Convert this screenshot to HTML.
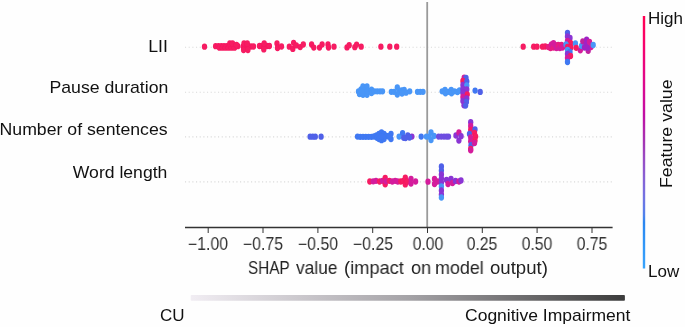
<!DOCTYPE html>
<html><head><meta charset="utf-8">
<style>
html,body{margin:0;padding:0;}
body{width:685px;height:327px;overflow:hidden;background:#fefefe;position:relative;font-family:"Liberation Sans",sans-serif;color:#111;-webkit-font-smoothing:antialiased;}
.t,.fl,.tk{will-change:transform;}
svg{position:absolute;left:0;top:0;}
.t{position:absolute;white-space:nowrap;font-size:17px;line-height:1;}
.fl{position:absolute;white-space:nowrap;font-size:17px;line-height:1;text-align:right;right:517px;transform:scaleX(1.04);transform-origin:100% 0;}
.xw{top:259px;color:#222;font-size:18.5px;transform-origin:0 0;}
.tk{position:absolute;top:235.5px;width:80px;text-align:center;font-size:17.5px;line-height:1;color:#333;transform:scaleX(0.9);transform-origin:50% 0;}
</style></head><body>
<svg width="685" height="327" viewBox="0 0 685 327">
<defs>
<linearGradient id="cb" x1="0" y1="1" x2="0" y2="0"><stop offset="0.000" stop-color="#38a5fc"/><stop offset="0.030" stop-color="#369ffb"/><stop offset="0.061" stop-color="#339bf9"/><stop offset="0.091" stop-color="#3197f8"/><stop offset="0.121" stop-color="#2e91f5"/><stop offset="0.152" stop-color="#2c8cf3"/><stop offset="0.182" stop-color="#2a86f0"/><stop offset="0.212" stop-color="#5081ec"/><stop offset="0.242" stop-color="#617ae8"/><stop offset="0.273" stop-color="#6e75e3"/><stop offset="0.303" stop-color="#786edf"/><stop offset="0.333" stop-color="#8067d9"/><stop offset="0.364" stop-color="#8860d3"/><stop offset="0.394" stop-color="#8f57cd"/><stop offset="0.424" stop-color="#954fc6"/><stop offset="0.455" stop-color="#9c45bf"/><stop offset="0.485" stop-color="#a03ab7"/><stop offset="0.515" stop-color="#a730b1"/><stop offset="0.545" stop-color="#b027ad"/><stop offset="0.576" stop-color="#b819a9"/><stop offset="0.606" stop-color="#c00ea4"/><stop offset="0.636" stop-color="#c80c9f"/><stop offset="0.667" stop-color="#cf0b99"/><stop offset="0.697" stop-color="#d60994"/><stop offset="0.727" stop-color="#dc088e"/><stop offset="0.758" stop-color="#e20787"/><stop offset="0.788" stop-color="#e80581"/><stop offset="0.818" stop-color="#ec047a"/><stop offset="0.848" stop-color="#f10374"/><stop offset="0.879" stop-color="#f6026d"/><stop offset="0.909" stop-color="#fa0266"/><stop offset="0.939" stop-color="#fd0160"/><stop offset="0.970" stop-color="#ff0058"/><stop offset="1.000" stop-color="#ff0051"/></linearGradient>
<filter id="sb" x="-5%" y="-20%" width="110%" height="140%"><feGaussianBlur stdDeviation="0.35"/></filter>
<linearGradient id="bb" x1="0" y1="0" x2="1" y2="0"><stop offset="0" stop-color="#f1edf3"/><stop offset="0.5" stop-color="#a5a3a7"/><stop offset="1" stop-color="#3c3c3c"/></linearGradient>
</defs>
<line x1="185" x2="612" y1="47.2" y2="47.2" stroke="#d9d9d9" stroke-width="1.1" stroke-dasharray="1.1 2.57" /><line x1="185" x2="612" y1="92.3" y2="92.3" stroke="#d9d9d9" stroke-width="1.1" stroke-dasharray="1.1 2.57" /><line x1="185" x2="612" y1="136.9" y2="136.9" stroke="#d9d9d9" stroke-width="1.1" stroke-dasharray="1.1 2.57" /><line x1="185" x2="612" y1="181.9" y2="181.9" stroke="#d9d9d9" stroke-width="1.1" stroke-dasharray="1.1 2.57" />
<line x1="427.2" x2="427.2" y1="2" y2="227" stroke="#9a9a9a" stroke-width="1.8"/>
<line x1="208.2" x2="208.2" y1="227.5" y2="233" stroke="#333" stroke-width="1"/><line x1="263.0" x2="263.0" y1="227.5" y2="233" stroke="#333" stroke-width="1"/><line x1="317.9" x2="317.9" y1="227.5" y2="233" stroke="#333" stroke-width="1"/><line x1="372.7" x2="372.7" y1="227.5" y2="233" stroke="#333" stroke-width="1"/><line x1="427.5" x2="427.5" y1="227.5" y2="233" stroke="#333" stroke-width="1"/><line x1="482.3" x2="482.3" y1="227.5" y2="233" stroke="#333" stroke-width="1"/><line x1="537.1" x2="537.1" y1="227.5" y2="233" stroke="#333" stroke-width="1"/><line x1="592.0" x2="592.0" y1="227.5" y2="233" stroke="#333" stroke-width="1"/>
<line x1="185" x2="612.6" y1="227.5" y2="227.5" stroke="#333" stroke-width="1.3"/>
<g filter="url(#sb)">
<ellipse cx="215.6" cy="46.2" rx="2.65" ry="3.15" fill="#f61a62"/>
<ellipse cx="218.4" cy="46.2" rx="2.65" ry="3.15" fill="#f61a62"/>
<ellipse cx="221.2" cy="46.2" rx="2.65" ry="3.15" fill="#f61a62"/>
<ellipse cx="224.0" cy="46.2" rx="2.65" ry="3.15" fill="#f61a62"/>
<ellipse cx="226.8" cy="46.2" rx="2.65" ry="3.15" fill="#f61a62"/>
<ellipse cx="229.6" cy="46.2" rx="2.65" ry="3.15" fill="#f61a62"/>
<ellipse cx="232.4" cy="46.2" rx="2.65" ry="3.15" fill="#f61a62"/>
<ellipse cx="235.2" cy="46.2" rx="2.65" ry="3.15" fill="#f61a62"/>
<ellipse cx="237.8" cy="46.2" rx="2.65" ry="3.15" fill="#f61a62"/>
<ellipse cx="219.5" cy="47.7" rx="2.65" ry="3.15" fill="#f61a62"/>
<ellipse cx="222.5" cy="47.7" rx="2.65" ry="3.15" fill="#f61a62"/>
<ellipse cx="225.5" cy="47.7" rx="2.65" ry="3.15" fill="#f61a62"/>
<ellipse cx="228.5" cy="47.7" rx="2.65" ry="3.15" fill="#f61a62"/>
<ellipse cx="231.5" cy="47.7" rx="2.65" ry="3.15" fill="#f61a62"/>
<ellipse cx="234.5" cy="47.7" rx="2.65" ry="3.15" fill="#f61a62"/>
<ellipse cx="229.8" cy="43.4" rx="2.65" ry="3.15" fill="#f61a62"/>
<ellipse cx="232.5" cy="43.4" rx="2.65" ry="3.15" fill="#f61a62"/>
<ellipse cx="236.5" cy="45.0" rx="2.65" ry="3.15" fill="#f61a62"/>
<ellipse cx="243.2" cy="46.5" rx="2.65" ry="3.15" fill="#f61a62"/>
<ellipse cx="245.8" cy="46.5" rx="2.65" ry="3.15" fill="#f61a62"/>
<ellipse cx="248.4" cy="46.5" rx="2.65" ry="3.15" fill="#f61a62"/>
<ellipse cx="251.0" cy="46.5" rx="2.65" ry="3.15" fill="#f61a62"/>
<ellipse cx="253.5" cy="46.5" rx="2.65" ry="3.15" fill="#f61a62"/>
<ellipse cx="244.0" cy="43.4" rx="2.65" ry="3.15" fill="#f61a62"/>
<ellipse cx="247.3" cy="43.4" rx="2.65" ry="3.15" fill="#f61a62"/>
<ellipse cx="243.6" cy="50.0" rx="2.65" ry="3.15" fill="#f61a62"/>
<ellipse cx="247.9" cy="50.0" rx="2.65" ry="3.15" fill="#f61a62"/>
<ellipse cx="259.5" cy="46.0" rx="2.65" ry="3.15" fill="#f61a62"/>
<ellipse cx="262.0" cy="46.0" rx="2.65" ry="3.15" fill="#f61a62"/>
<ellipse cx="264.5" cy="46.0" rx="2.65" ry="3.15" fill="#f61a62"/>
<ellipse cx="267.0" cy="46.0" rx="2.65" ry="3.15" fill="#f61a62"/>
<ellipse cx="269.4" cy="46.0" rx="2.65" ry="3.15" fill="#f61a62"/>
<ellipse cx="264.2" cy="43.3" rx="2.65" ry="3.15" fill="#f61a62"/>
<ellipse cx="263.8" cy="49.4" rx="2.65" ry="3.15" fill="#f61a62"/>
<ellipse cx="204.5" cy="46.7" rx="2.65" ry="3.15" fill="#f61a62"/>
<ellipse cx="277.0" cy="43.5" rx="2.65" ry="3.15" fill="#f61a62"/>
<ellipse cx="277.5" cy="48.0" rx="2.65" ry="3.15" fill="#f61a62"/>
<ellipse cx="281.5" cy="46.5" rx="2.65" ry="3.15" fill="#f61a62"/>
<ellipse cx="289.3" cy="46.7" rx="2.65" ry="3.15" fill="#f61a62"/>
<ellipse cx="293.6" cy="42.8" rx="2.65" ry="3.15" fill="#f61a62"/>
<ellipse cx="292.8" cy="48.9" rx="2.65" ry="3.15" fill="#f61a62"/>
<ellipse cx="296.3" cy="45.4" rx="2.65" ry="3.15" fill="#f61a62"/>
<ellipse cx="300.2" cy="47.1" rx="2.65" ry="3.15" fill="#f61a62"/>
<ellipse cx="303.3" cy="44.5" rx="2.65" ry="3.15" fill="#f61a62"/>
<ellipse cx="311.6" cy="44.5" rx="2.65" ry="3.15" fill="#f61a62"/>
<ellipse cx="313.8" cy="47.6" rx="2.65" ry="3.15" fill="#f61a62"/>
<ellipse cx="319.5" cy="47.6" rx="2.65" ry="3.15" fill="#f61a62"/>
<ellipse cx="322.1" cy="44.5" rx="2.65" ry="3.15" fill="#f61a62"/>
<ellipse cx="328.0" cy="44.5" rx="2.65" ry="3.15" fill="#f61a62"/>
<ellipse cx="328.5" cy="47.5" rx="2.65" ry="3.15" fill="#f61a62"/>
<ellipse cx="334.0" cy="46.7" rx="2.65" ry="3.15" fill="#f61a62"/>
<ellipse cx="347.0" cy="47.4" rx="2.65" ry="3.15" fill="#f61a62"/>
<ellipse cx="349.2" cy="45.2" rx="2.65" ry="3.15" fill="#f61a62"/>
<ellipse cx="354.8" cy="47.2" rx="2.65" ry="3.15" fill="#f61a62"/>
<ellipse cx="356.6" cy="44.6" rx="2.65" ry="3.15" fill="#f61a62"/>
<ellipse cx="361.2" cy="46.7" rx="2.65" ry="3.15" fill="#f61a62"/>
<ellipse cx="380.9" cy="46.7" rx="2.65" ry="3.15" fill="#f61a62"/>
<ellipse cx="389.8" cy="46.7" rx="2.65" ry="3.15" fill="#f61a62"/>
<ellipse cx="396.7" cy="46.7" rx="2.65" ry="3.15" fill="#f61a62"/>
<ellipse cx="523.2" cy="46.7" rx="2.65" ry="3.15" fill="#f61a62"/>
<ellipse cx="533.7" cy="46.7" rx="2.65" ry="3.15" fill="#f61a62"/>
<ellipse cx="537.0" cy="46.7" rx="2.65" ry="3.15" fill="#f61a62"/>
<ellipse cx="542.5" cy="46.7" rx="2.65" ry="3.15" fill="#f61a62"/>
<ellipse cx="545.2" cy="46.5" rx="2.65" ry="3.15" fill="#f61a62"/>
<ellipse cx="548.5" cy="47.0" rx="2.65" ry="3.15" fill="#e61c82"/>
<ellipse cx="550.5" cy="48.0" rx="2.65" ry="3.15" fill="#e61c82"/>
<ellipse cx="551.5" cy="44.5" rx="2.65" ry="3.15" fill="#d41e9c"/>
<ellipse cx="553.5" cy="47.5" rx="2.65" ry="3.15" fill="#e61c82"/>
<ellipse cx="555.0" cy="44.8" rx="2.65" ry="3.15" fill="#d41e9c"/>
<ellipse cx="556.5" cy="48.0" rx="2.65" ry="3.15" fill="#d41e9c"/>
<ellipse cx="558.2" cy="45.0" rx="2.65" ry="3.15" fill="#e61c82"/>
<ellipse cx="559.8" cy="48.0" rx="2.65" ry="3.15" fill="#d41e9c"/>
<ellipse cx="561.5" cy="45.0" rx="2.65" ry="3.15" fill="#e61c82"/>
<ellipse cx="562.5" cy="47.5" rx="2.65" ry="3.15" fill="#d41e9c"/>
<ellipse cx="553.5" cy="43.2" rx="2.65" ry="3.15" fill="#d41e9c"/>
<ellipse cx="567.5" cy="32.8" rx="2.65" ry="3.15" fill="#5060e8"/>
<ellipse cx="567.5" cy="36.5" rx="2.65" ry="3.15" fill="#8a34d4"/>
<ellipse cx="570.0" cy="38.0" rx="2.65" ry="3.15" fill="#8a34d4"/>
<ellipse cx="567.5" cy="41.0" rx="2.65" ry="3.15" fill="#d41e9c"/>
<ellipse cx="570.5" cy="43.0" rx="2.65" ry="3.15" fill="#f61a62"/>
<ellipse cx="566.0" cy="44.5" rx="2.65" ry="3.15" fill="#4896f7"/>
<ellipse cx="567.5" cy="47.0" rx="2.65" ry="3.15" fill="#f61a62"/>
<ellipse cx="571.0" cy="47.5" rx="2.65" ry="3.15" fill="#f61a62"/>
<ellipse cx="567.5" cy="50.0" rx="2.65" ry="3.15" fill="#4896f7"/>
<ellipse cx="570.0" cy="52.0" rx="2.65" ry="3.15" fill="#3f78f2"/>
<ellipse cx="567.5" cy="54.0" rx="2.65" ry="3.15" fill="#8a34d4"/>
<ellipse cx="570.5" cy="56.0" rx="2.65" ry="3.15" fill="#f61a62"/>
<ellipse cx="567.5" cy="58.0" rx="2.65" ry="3.15" fill="#d41e9c"/>
<ellipse cx="567.5" cy="62.0" rx="2.65" ry="3.15" fill="#3f78f2"/>
<ellipse cx="575.4" cy="43.5" rx="2.65" ry="3.15" fill="#4896f7"/>
<ellipse cx="576.2" cy="47.8" rx="2.65" ry="3.15" fill="#f61a62"/>
<ellipse cx="580.3" cy="50.3" rx="2.65" ry="3.15" fill="#d41e9c"/>
<ellipse cx="581.5" cy="45.8" rx="2.65" ry="3.15" fill="#4896f7"/>
<ellipse cx="582.8" cy="41.3" rx="2.65" ry="3.15" fill="#c0209e"/>
<ellipse cx="586.6" cy="39.6" rx="2.65" ry="3.15" fill="#a024c4"/>
<ellipse cx="586.2" cy="44.5" rx="2.65" ry="3.15" fill="#a024c4"/>
<ellipse cx="589.5" cy="42.0" rx="2.65" ry="3.15" fill="#d41e9c"/>
<ellipse cx="584.5" cy="47.5" rx="2.65" ry="3.15" fill="#a024c4"/>
<ellipse cx="588.2" cy="50.8" rx="2.65" ry="3.15" fill="#c0209e"/>
<ellipse cx="591.0" cy="47.0" rx="2.65" ry="3.15" fill="#d41e9c"/>
<ellipse cx="587.5" cy="47.8" rx="2.65" ry="3.15" fill="#a024c4"/>
<ellipse cx="593.2" cy="45.0" rx="2.65" ry="3.15" fill="#4896f7"/>
<ellipse cx="358.5" cy="91.5" rx="2.65" ry="3.15" fill="#4896f7"/>
<ellipse cx="359.5" cy="94.0" rx="2.65" ry="3.15" fill="#4896f7"/>
<ellipse cx="361.0" cy="89.5" rx="2.65" ry="3.15" fill="#4896f7"/>
<ellipse cx="362.9" cy="86.5" rx="2.65" ry="3.15" fill="#4896f7"/>
<ellipse cx="367.0" cy="86.5" rx="2.65" ry="3.15" fill="#4896f7"/>
<ellipse cx="363.0" cy="94.8" rx="2.65" ry="3.15" fill="#4896f7"/>
<ellipse cx="367.0" cy="94.8" rx="2.65" ry="3.15" fill="#4896f7"/>
<ellipse cx="365.0" cy="90.7" rx="2.65" ry="3.15" fill="#4896f7"/>
<ellipse cx="368.0" cy="91.0" rx="2.65" ry="3.15" fill="#4896f7"/>
<ellipse cx="362.0" cy="92.0" rx="2.65" ry="3.15" fill="#4896f7"/>
<ellipse cx="371.5" cy="89.6" rx="2.65" ry="3.15" fill="#4896f7"/>
<ellipse cx="371.5" cy="93.0" rx="2.65" ry="3.15" fill="#4896f7"/>
<ellipse cx="374.5" cy="91.3" rx="2.65" ry="3.15" fill="#4896f7"/>
<ellipse cx="377.2" cy="91.3" rx="2.65" ry="3.15" fill="#4896f7"/>
<ellipse cx="380.0" cy="91.3" rx="2.65" ry="3.15" fill="#4896f7"/>
<ellipse cx="382.5" cy="91.3" rx="2.65" ry="3.15" fill="#4896f7"/>
<ellipse cx="391.3" cy="91.8" rx="2.65" ry="3.15" fill="#4896f7"/>
<ellipse cx="394.0" cy="91.8" rx="2.65" ry="3.15" fill="#4896f7"/>
<ellipse cx="397.3" cy="87.5" rx="2.65" ry="3.15" fill="#4896f7"/>
<ellipse cx="397.3" cy="94.5" rx="2.65" ry="3.15" fill="#4896f7"/>
<ellipse cx="399.0" cy="91.0" rx="2.65" ry="3.15" fill="#4896f7"/>
<ellipse cx="401.5" cy="90.3" rx="2.65" ry="3.15" fill="#4896f7"/>
<ellipse cx="404.2" cy="89.9" rx="2.65" ry="3.15" fill="#4896f7"/>
<ellipse cx="406.0" cy="92.7" rx="2.65" ry="3.15" fill="#4896f7"/>
<ellipse cx="409.7" cy="91.3" rx="2.65" ry="3.15" fill="#4896f7"/>
<ellipse cx="402.0" cy="93.5" rx="2.65" ry="3.15" fill="#4896f7"/>
<ellipse cx="417.5" cy="91.8" rx="2.65" ry="3.15" fill="#4896f7"/>
<ellipse cx="420.2" cy="91.8" rx="2.65" ry="3.15" fill="#4896f7"/>
<ellipse cx="423.0" cy="91.8" rx="2.65" ry="3.15" fill="#4896f7"/>
<ellipse cx="442.2" cy="91.3" rx="2.65" ry="3.15" fill="#4896f7"/>
<ellipse cx="445.0" cy="89.9" rx="2.65" ry="3.15" fill="#4896f7"/>
<ellipse cx="445.5" cy="93.3" rx="2.65" ry="3.15" fill="#4896f7"/>
<ellipse cx="448.2" cy="91.8" rx="2.65" ry="3.15" fill="#4896f7"/>
<ellipse cx="451.2" cy="90.0" rx="2.65" ry="3.15" fill="#4896f7"/>
<ellipse cx="451.5" cy="93.3" rx="2.65" ry="3.15" fill="#4896f7"/>
<ellipse cx="454.5" cy="91.3" rx="2.65" ry="3.15" fill="#4896f7"/>
<ellipse cx="457.5" cy="92.0" rx="2.65" ry="3.15" fill="#4896f7"/>
<ellipse cx="459.5" cy="90.5" rx="2.65" ry="3.15" fill="#4896f7"/>
<ellipse cx="464.2" cy="77.6" rx="2.65" ry="3.15" fill="#d41e9c"/>
<ellipse cx="466.0" cy="77.8" rx="2.65" ry="3.15" fill="#5060e8"/>
<ellipse cx="462.9" cy="81.0" rx="2.65" ry="3.15" fill="#f61a62"/>
<ellipse cx="466.8" cy="81.5" rx="2.65" ry="3.15" fill="#5060e8"/>
<ellipse cx="462.9" cy="85.0" rx="2.65" ry="3.15" fill="#8a34d4"/>
<ellipse cx="466.8" cy="85.5" rx="2.65" ry="3.15" fill="#4896f7"/>
<ellipse cx="462.9" cy="89.0" rx="2.65" ry="3.15" fill="#8a34d4"/>
<ellipse cx="466.8" cy="89.5" rx="2.65" ry="3.15" fill="#8a34d4"/>
<ellipse cx="462.9" cy="93.0" rx="2.65" ry="3.15" fill="#8a34d4"/>
<ellipse cx="467.2" cy="94.5" rx="2.65" ry="3.15" fill="#f61a62"/>
<ellipse cx="462.9" cy="97.0" rx="2.65" ry="3.15" fill="#d41e9c"/>
<ellipse cx="466.8" cy="98.5" rx="2.65" ry="3.15" fill="#8a34d4"/>
<ellipse cx="462.9" cy="101.0" rx="2.65" ry="3.15" fill="#8a34d4"/>
<ellipse cx="466.4" cy="102.0" rx="2.65" ry="3.15" fill="#5060e8"/>
<ellipse cx="464.0" cy="105.3" rx="2.65" ry="3.15" fill="#8a34d4"/>
<ellipse cx="465.6" cy="105.6" rx="2.65" ry="3.15" fill="#5060e8"/>
<ellipse cx="475.1" cy="90.6" rx="2.65" ry="3.15" fill="#3f78f2"/>
<ellipse cx="480.2" cy="91.9" rx="2.65" ry="3.15" fill="#5060e8"/>
<ellipse cx="310.1" cy="136.7" rx="2.65" ry="3.15" fill="#5060e8"/>
<ellipse cx="312.8" cy="136.7" rx="2.65" ry="3.15" fill="#5060e8"/>
<ellipse cx="315.3" cy="136.7" rx="2.65" ry="3.15" fill="#5060e8"/>
<ellipse cx="321.1" cy="136.7" rx="2.65" ry="3.15" fill="#5060e8"/>
<ellipse cx="357.5" cy="136.6" rx="2.65" ry="3.15" fill="#3f78f2"/>
<ellipse cx="360.2" cy="136.8" rx="2.65" ry="3.15" fill="#3f78f2"/>
<ellipse cx="363.0" cy="136.8" rx="2.65" ry="3.15" fill="#3f78f2"/>
<ellipse cx="365.8" cy="136.8" rx="2.65" ry="3.15" fill="#3f78f2"/>
<ellipse cx="368.6" cy="136.8" rx="2.65" ry="3.15" fill="#3f78f2"/>
<ellipse cx="371.4" cy="136.8" rx="2.65" ry="3.15" fill="#3f78f2"/>
<ellipse cx="374.0" cy="136.5" rx="2.65" ry="3.15" fill="#3f78f2"/>
<ellipse cx="376.5" cy="135.5" rx="2.65" ry="3.15" fill="#3f78f2"/>
<ellipse cx="379.0" cy="134.0" rx="2.65" ry="3.15" fill="#3f78f2"/>
<ellipse cx="381.5" cy="132.5" rx="2.65" ry="3.15" fill="#3f78f2"/>
<ellipse cx="384.0" cy="134.0" rx="2.65" ry="3.15" fill="#3f78f2"/>
<ellipse cx="386.5" cy="136.0" rx="2.65" ry="3.15" fill="#3f78f2"/>
<ellipse cx="377.0" cy="137.8" rx="2.65" ry="3.15" fill="#3f78f2"/>
<ellipse cx="379.0" cy="139.0" rx="2.65" ry="3.15" fill="#3f78f2"/>
<ellipse cx="381.5" cy="140.2" rx="2.65" ry="3.15" fill="#3f78f2"/>
<ellipse cx="384.0" cy="139.0" rx="2.65" ry="3.15" fill="#3f78f2"/>
<ellipse cx="381.5" cy="136.5" rx="2.65" ry="3.15" fill="#3f78f2"/>
<ellipse cx="388.5" cy="136.5" rx="2.65" ry="3.15" fill="#3f78f2"/>
<ellipse cx="391.0" cy="133.8" rx="2.65" ry="3.15" fill="#3f78f2"/>
<ellipse cx="391.0" cy="139.0" rx="2.65" ry="3.15" fill="#3f78f2"/>
<ellipse cx="389.5" cy="136.2" rx="2.65" ry="3.15" fill="#3f78f2"/>
<ellipse cx="399.1" cy="136.6" rx="2.65" ry="3.15" fill="#4896f7"/>
<ellipse cx="402.6" cy="133.1" rx="2.65" ry="3.15" fill="#3f78f2"/>
<ellipse cx="403.7" cy="137.8" rx="2.65" ry="3.15" fill="#5060e8"/>
<ellipse cx="407.8" cy="135.4" rx="2.65" ry="3.15" fill="#5060e8"/>
<ellipse cx="411.9" cy="136.6" rx="2.65" ry="3.15" fill="#8a34d4"/>
<ellipse cx="405.5" cy="138.0" rx="2.65" ry="3.15" fill="#5060e8"/>
<ellipse cx="409.5" cy="137.5" rx="2.65" ry="3.15" fill="#5060e8"/>
<ellipse cx="421.2" cy="136.6" rx="2.65" ry="3.15" fill="#3f78f2"/>
<ellipse cx="426.4" cy="136.6" rx="2.65" ry="3.15" fill="#4896f7"/>
<ellipse cx="431.0" cy="132.5" rx="2.65" ry="3.15" fill="#4896f7"/>
<ellipse cx="431.0" cy="140.1" rx="2.65" ry="3.15" fill="#4896f7"/>
<ellipse cx="434.0" cy="136.0" rx="2.65" ry="3.15" fill="#4896f7"/>
<ellipse cx="429.0" cy="136.6" rx="2.65" ry="3.15" fill="#4896f7"/>
<ellipse cx="438.6" cy="136.6" rx="2.65" ry="3.15" fill="#6e4ee0"/>
<ellipse cx="441.3" cy="136.6" rx="2.65" ry="3.15" fill="#6e4ee0"/>
<ellipse cx="444.0" cy="136.6" rx="2.65" ry="3.15" fill="#6e4ee0"/>
<ellipse cx="446.5" cy="136.6" rx="2.65" ry="3.15" fill="#6e4ee0"/>
<ellipse cx="448.5" cy="136.6" rx="2.65" ry="3.15" fill="#6e4ee0"/>
<ellipse cx="456.0" cy="135.5" rx="2.65" ry="3.15" fill="#8a34d4"/>
<ellipse cx="458.9" cy="132.5" rx="2.65" ry="3.15" fill="#d41e9c"/>
<ellipse cx="458.9" cy="140.6" rx="2.65" ry="3.15" fill="#8a34d4"/>
<ellipse cx="461.1" cy="136.2" rx="2.65" ry="3.15" fill="#8a34d4"/>
<ellipse cx="470.7" cy="122.2" rx="2.65" ry="3.15" fill="#8a34d4"/>
<ellipse cx="470.7" cy="126.0" rx="2.65" ry="3.15" fill="#d41e9c"/>
<ellipse cx="470.7" cy="130.0" rx="2.65" ry="3.15" fill="#f61a62"/>
<ellipse cx="469.5" cy="134.0" rx="2.65" ry="3.15" fill="#5060e8"/>
<ellipse cx="470.7" cy="137.5" rx="2.65" ry="3.15" fill="#d41e9c"/>
<ellipse cx="470.7" cy="141.3" rx="2.65" ry="3.15" fill="#d41e9c"/>
<ellipse cx="471.0" cy="145.2" rx="2.65" ry="3.15" fill="#5060e8"/>
<ellipse cx="470.7" cy="148.8" rx="2.65" ry="3.15" fill="#f61a62"/>
<ellipse cx="470.7" cy="150.3" rx="2.65" ry="3.15" fill="#d41e9c"/>
<ellipse cx="475.0" cy="129.5" rx="2.65" ry="3.15" fill="#5060e8"/>
<ellipse cx="474.5" cy="133.0" rx="2.65" ry="3.15" fill="#f61a62"/>
<ellipse cx="475.6" cy="136.5" rx="2.65" ry="3.15" fill="#f61a62"/>
<ellipse cx="475.0" cy="140.5" rx="2.65" ry="3.15" fill="#f61a62"/>
<ellipse cx="474.5" cy="143.0" rx="2.65" ry="3.15" fill="#d41e9c"/>
<ellipse cx="369.8" cy="181.5" rx="2.65" ry="3.15" fill="#f61a62"/>
<ellipse cx="373.2" cy="181.3" rx="2.65" ry="3.15" fill="#d41e9c"/>
<ellipse cx="376.0" cy="180.8" rx="2.65" ry="3.15" fill="#d41e9c"/>
<ellipse cx="379.6" cy="181.5" rx="2.65" ry="3.15" fill="#f61a62"/>
<ellipse cx="382.5" cy="180.8" rx="2.65" ry="3.15" fill="#d41e9c"/>
<ellipse cx="385.2" cy="178.0" rx="2.65" ry="3.15" fill="#f61a62"/>
<ellipse cx="385.2" cy="184.3" rx="2.65" ry="3.15" fill="#f61a62"/>
<ellipse cx="386.0" cy="181.3" rx="2.65" ry="3.15" fill="#d41e9c"/>
<ellipse cx="389.4" cy="180.8" rx="2.65" ry="3.15" fill="#f61a62"/>
<ellipse cx="392.3" cy="181.5" rx="2.65" ry="3.15" fill="#d41e9c"/>
<ellipse cx="395.2" cy="180.8" rx="2.65" ry="3.15" fill="#d41e9c"/>
<ellipse cx="397.8" cy="181.5" rx="2.65" ry="3.15" fill="#d41e9c"/>
<ellipse cx="400.8" cy="181.5" rx="2.65" ry="3.15" fill="#f61a62"/>
<ellipse cx="403.5" cy="181.0" rx="2.65" ry="3.15" fill="#f61a62"/>
<ellipse cx="405.3" cy="177.7" rx="2.65" ry="3.15" fill="#f61a62"/>
<ellipse cx="405.3" cy="184.4" rx="2.65" ry="3.15" fill="#f61a62"/>
<ellipse cx="407.5" cy="181.5" rx="2.65" ry="3.15" fill="#f61a62"/>
<ellipse cx="411.0" cy="178.8" rx="2.65" ry="3.15" fill="#d41e9c"/>
<ellipse cx="411.0" cy="183.6" rx="2.65" ry="3.15" fill="#d41e9c"/>
<ellipse cx="415.6" cy="181.5" rx="2.65" ry="3.15" fill="#d41e9c"/>
<ellipse cx="428.0" cy="181.7" rx="2.65" ry="3.15" fill="#d41e9c"/>
<ellipse cx="434.5" cy="179.0" rx="2.65" ry="3.15" fill="#d41e9c"/>
<ellipse cx="434.5" cy="184.0" rx="2.65" ry="3.15" fill="#d41e9c"/>
<ellipse cx="437.5" cy="181.5" rx="2.65" ry="3.15" fill="#d41e9c"/>
<ellipse cx="441.4" cy="166.5" rx="2.65" ry="3.15" fill="#5060e8"/>
<ellipse cx="441.4" cy="170.5" rx="2.65" ry="3.15" fill="#5060e8"/>
<ellipse cx="441.4" cy="174.5" rx="2.65" ry="3.15" fill="#8a34d4"/>
<ellipse cx="441.4" cy="178.5" rx="2.65" ry="3.15" fill="#8a34d4"/>
<ellipse cx="441.4" cy="182.5" rx="2.65" ry="3.15" fill="#8a34d4"/>
<ellipse cx="441.4" cy="186.5" rx="2.65" ry="3.15" fill="#4896f7"/>
<ellipse cx="441.4" cy="190.5" rx="2.65" ry="3.15" fill="#8a34d4"/>
<ellipse cx="441.4" cy="194.5" rx="2.65" ry="3.15" fill="#8a34d4"/>
<ellipse cx="441.4" cy="197.5" rx="2.65" ry="3.15" fill="#4896f7"/>
<ellipse cx="446.5" cy="180.0" rx="2.65" ry="3.15" fill="#8a34d4"/>
<ellipse cx="448.0" cy="184.0" rx="2.65" ry="3.15" fill="#d41e9c"/>
<ellipse cx="451.0" cy="179.0" rx="2.65" ry="3.15" fill="#8a34d4"/>
<ellipse cx="452.5" cy="183.0" rx="2.65" ry="3.15" fill="#d41e9c"/>
<ellipse cx="455.5" cy="181.0" rx="2.65" ry="3.15" fill="#8a34d4"/>
<ellipse cx="459.0" cy="181.5" rx="2.65" ry="3.15" fill="#d41e9c"/>
<ellipse cx="461.0" cy="180.5" rx="2.65" ry="3.15" fill="#8a34d4"/>
</g>
<rect x="642.8" y="16" width="2.4" height="252.5" fill="url(#cb)"/>
<rect x="190.7" y="295.1" width="434.2" height="5.6" rx="0.8" fill="url(#bb)"/>
</svg>
<div class="fl" style="top:37.5px;right:517.5px">LII</div>
<div class="fl" style="top:79.2px">Pause duration</div>
<div class="fl" style="top:121px">Number of sentences</div>
<div class="fl" style="top:163.9px;right:518px;transform:scaleX(1.035)">Word length</div>
<div class="tk" style="left:168.2px">−1.00</div><div class="tk" style="left:223.0px">−0.75</div><div class="tk" style="left:277.9px">−0.50</div><div class="tk" style="left:332.7px">−0.25</div><div class="tk" style="left:387.5px">0.00</div><div class="tk" style="left:442.3px">0.25</div><div class="tk" style="left:497.1px">0.50</div><div class="tk" style="left:552.0px">0.75</div>
<div class="t xw" style="left:247.97px;transform:scaleX(0.827);">SHAP</div>
<div class="t xw" style="left:296.40px;transform:scaleX(0.936);">value</div>
<div class="t xw" style="left:344.41px;transform:scaleX(0.987);">(impact</div>
<div class="t xw" style="left:410.62px;transform:scaleX(0.978);">on</div>
<div class="t xw" style="left:435.23px;transform:scaleX(0.967);">model</div>
<div class="t xw" style="left:489.50px;transform:scaleX(1.004);">output)</div>

<div class="t" style="left:648px;top:10px;">High</div>
<div class="t" style="left:648px;top:263px;">Low</div>
<div class="t" style="left:658px;top:188px;transform:rotate(-90deg) scaleX(1.045);transform-origin:0 0;">Feature value</div>
<div class="t" style="left:160px;top:307px;">CU</div>
<div class="t" style="left:464.5px;top:306.5px;transform:scaleX(1.03);transform-origin:0 0;">Cognitive Impairment</div>
</body></html>
